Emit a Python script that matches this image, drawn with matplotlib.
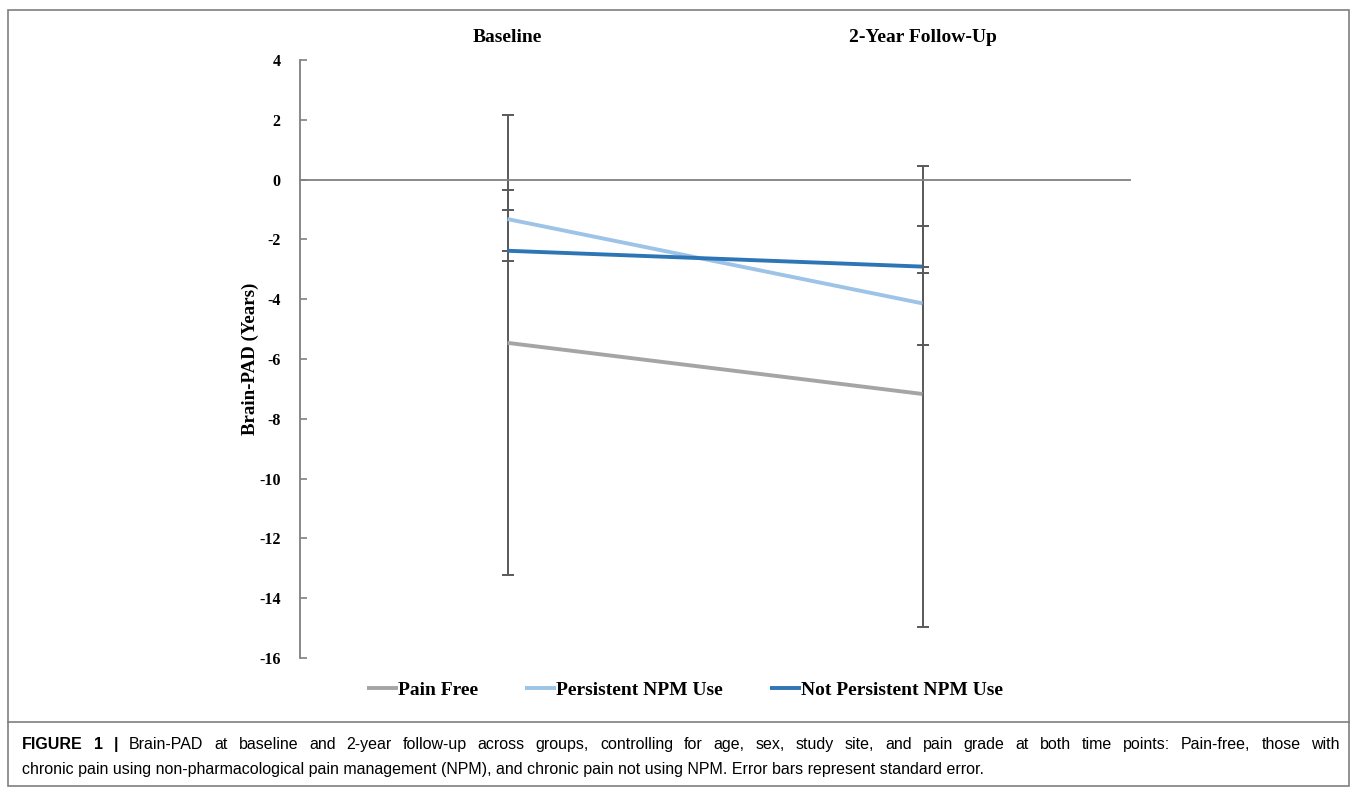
import numpy as np
import matplotlib
matplotlib.use("Agg")
from matplotlib import pyplot as plt

timepoints = ["Baseline", "2-Year Follow-Up"]
groups = ["Pain Free", "Persistent NPM Use", "Not Persistent NPM Use"]
colors = ["#a5a5a5", "#9dc3e6", "#2e75b6"]

# group means (years)
pain_free = [-5.46, -7.17]
persistent_npm = [-1.32, -4.14]
not_persistent_npm = [-2.38, -2.91]

# error bar ends (lower, upper)
pain_free_lo = [-13.22, -14.95]
pain_free_hi = [2.17, 0.46]
persistent_lo = [-2.38, -5.53]
persistent_hi = [-0.35, -2.91]
not_persistent_lo = [-2.72, -3.13]
not_persistent_hi = [-1.02, -1.55]

means = [pain_free, persistent_npm, not_persistent_npm]
lows = [pain_free_lo, persistent_lo, not_persistent_lo]
highs = [pain_free_hi, persistent_hi, not_persistent_hi]

yticks = list(range(-16, 5, 2))

caption1 = ("Brain-PAD at baseline and 2-year follow-up across groups, controlling for age, sex, "
            "study site, and pain grade at both time points: Pain-free, those with")
caption2 = ("chronic pain using non-pharmacological pain management (NPM), and chronic pain not "
            "using NPM. Error bars represent standard error.")

serif = ["Liberation Serif", "DejaVu Serif"]
sans = ["Liberation Sans", "DejaVu Sans"]

# chart text is bold Times-like, the caption below is set by hand in sans
plt.rcParams["font.family"] = serif
plt.rcParams["font.weight"] = "bold"
plt.rcParams["axes.labelweight"] = "bold"

fig = plt.figure(figsize=(13.57, 7.91), dpi=100)
W, H = 1357, 791
ax = fig.add_axes([300 / W, 1 - 658 / H, 830 / W, 598 / H])

x = np.arange(len(timepoints))
for m, lo, hi, c, g in zip(means, lows, highs, colors, groups):
    m = np.array(m)
    err = [m - np.array(lo), np.array(hi) - m]
    ax.errorbar(x, m, yerr=err, fmt="none", ecolor="#595959", elinewidth=1.4,
                capsize=4, capthick=1.4, zorder=2)
    ax.plot(x, m, color=c, lw=2.8, label=g, zorder=3, solid_capstyle="butt")

ax.set_xlim(-0.5, 1.5)
ax.set_ylim(-16, 4)
ax.set_xticks([])
ax.tick_params(axis="y", direction="in", length=5, width=1.2, color="#808080", pad=14)
ax.set_yticks(yticks)
ax.set_yticklabels([str(v) for v in yticks])

# category labels sit above the plot (Excel "high" labels)
for xi, lab in zip(x, timepoints):
    ax.text(xi, 1 + 22 / 598, lab, transform=ax.get_xaxis_transform(), ha="center",
            va="center", fontsize=14)

for s in ["top", "right"]:
    ax.spines[s].set_visible(False)
ax.spines["bottom"].set_position(("data", 0))
ax.spines["bottom"].set_color("#808080")
ax.spines["left"].set_color("#808080")
ax.spines["bottom"].set_linewidth(1.3)
ax.spines["left"].set_linewidth(1.3)

ax.set_ylabel("Brain-PAD (Years)", fontsize=13.6, fontweight="bold", labelpad=0)

fig.legend(loc="center", bbox_to_anchor=(685 / W, 1 - 690 / H), ncol=3, frameon=False,
           prop={"family": serif, "weight": "bold", "size": 14},
           handlelength=1.6, handletextpad=0.0, columnspacing=2.4)

# frame and caption box
fig.add_artist(plt.Rectangle((8 / W, 1 - 786 / H), 1341 / W, 776 / H, fill=False,
                             edgecolor="#7f7f7f", lw=1.2, transform=fig.transFigure))
fig.add_artist(plt.Line2D([8 / W, 1349 / W], [1 - 722 / H, 1 - 722 / H],
                          color="#7f7f7f", lw=1.2, transform=fig.transFigure))

cap_size = 11.5
fig.canvas.draw()
renderer = fig.canvas.get_renderer()

# style the tick labels after the first draw so nothing resets them
for tk in ax.yaxis.get_major_ticks():
    tk.label1.set_fontfamily(serif)
    tk.label1.set_fontweight("bold")
    tk.label1.set_fontsize(11.5)

# first line is justified to the full width, word by word
words = [("FIGURE", "bold"), ("1", "bold"), ("|", "bold")] + [(w, "normal") for w in caption1.split()]
texts = []
for w, wt in words:
    texts.append(fig.text(0, 1 - 749 / H, w, fontfamily=sans, fontweight=wt,
                          fontsize=cap_size, va="baseline", ha="left"))
widths = [t.get_window_extent(renderer=renderer).width for t in texts]
left, right = 22, 1340
gap = (right - left - sum(widths)) / (len(words) - 1)
pos = left
for t, wd in zip(texts, widths):
    t.set_x(pos / W)
    pos += wd + gap

fig.text(22 / W, 1 - 774 / H, caption2, fontfamily=sans, fontweight="normal",
         fontsize=cap_size, va="baseline", ha="left")

fig.savefig("out.png", dpi=100)
